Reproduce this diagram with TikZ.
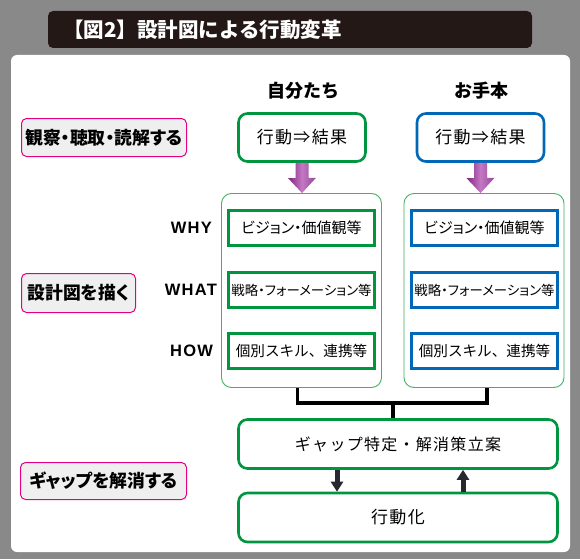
\documentclass[tikz,border=0pt]{standalone}
\usepackage{fontspec}
\setmainfont{Noto Sans CJK JP}
\newfontfamily\jpp{Noto Sans CJK JP}[RawFeature=+palt]
\newfontfamily\jpw{Noto Sans CJK JP}[LetterSpace=8]
\newfontfamily\latinb{Liberation Sans}[LetterSpace=8]
\usetikzlibrary{positioning, calc, arrows.meta}

\definecolor{bggray}{RGB}{137,137,137}
\definecolor{barcol}{RGB}{35,24,21}
\definecolor{gline}{RGB}{0,150,64}
\definecolor{bline}{RGB}{0,104,183}
\definecolor{fline}{RGB}{70,175,100}
\definecolor{pinkline}{RGB}{228,0,127}
\definecolor{lblfill}{RGB}{239,239,239}
\definecolor{arrdark}{RGB}{40,40,48}
\definecolor{purdark}{RGB}{128,36,128}
\definecolor{purlight}{RGB}{196,120,196}

\tikzset{
  stagelbl/.style={draw=pinkline, fill=lblfill, line width=1pt, rounded corners=5pt, inner sep=0pt,
    font=\jpp\bfseries\fontsize{17.8}{18}\selectfont},
  colhead/.style={font=\bfseries\fontsize{18}{18}\selectfont, inner sep=0pt},
  topbox/.style={line width=2.6pt, rounded corners=9pt, fill=white, minimum width=127pt,
    minimum height=48pt, inner sep=0pt, font=\jpw\fontsize{17}{17}\selectfont},
  framebox/.style={draw=fline, line width=0.9pt, rounded corners=10pt, minimum width=160pt, minimum height=194pt},
  innerbox/.style={line width=2.6pt, minimum width=146pt, minimum height=35pt, inner sep=0pt},
  wlbl/.style={font=\latinb\bfseries\fontsize{16.5}{17}\selectfont, inner sep=0pt},
  widebox/.style={draw=gline, line width=2.6pt, rounded corners=9pt, minimum width=319pt,
    minimum height=49pt, inner sep=0pt, font=\jpw\fontsize{16}{16}\selectfont},
  bracket/.style={line width=3.5pt},
  darrow/.style={draw=arrdark, line width=5pt, -{Triangle[width=12pt,length=10pt]}},
  purparrow/.style={left color=purdark, right color=purdark!85, middle color=purlight}
}

\begin{document}
\begin{tikzpicture}[x=1pt, y=-1pt]
  % background, title bar and panel
  \fill[bggray] (0,0) rectangle (580,559);
  \useasboundingbox (0,0) rectangle (580,559);
  \fill[barcol, rounded corners=5pt] (48,11) rectangle (532,48);
  \fill[white, rounded corners=6pt] (11,55) rectangle (570,552);
  \node[anchor=west, text=white, inner sep=0pt, font=\bfseries\fontsize{20.5}{21}\selectfont] (title) at (63,29.5) {【図2】設計図による行動変革};

  % column heads
  \node[colhead] (own) at (303,91) {自分たち};
  \node[colhead] (model) at (481,91) {お手本};

  % stage labels
  \node[stagelbl, minimum width=165pt, minimum height=38pt] (observe) at (104,137.5) {観察・聴取・読解する};
  \node[stagelbl, minimum width=114pt, minimum height=39pt] (design) at (78.5,293) {設計図を描く};
  \node[stagelbl, minimum width=166pt, minimum height=37pt] (solve) at (103.5,481) {ギャップを解消する};

  % behaviour => result
  \node[topbox, draw=gline] (ltop) at (302,137.5) {行動⇒結果};
  \node[topbox, draw=bline] (rtop) at (480.5,137.5) {行動⇒結果};

  % design frames
  \node[framebox] (lframe) at (301.5,290.5) {};
  \node[framebox] (rframe) at (484,290.5) {};

  % why / what / how boxes
  \foreach \k/\fnt/\txt/\y in {why/{\jpp\fontsize{15}{15}}/{ビジョン・価値観等}/228,
      what/{\jpp\fontsize{13.4}{14}}/{戦略・フォーメーション等}/290,
      how/{\fontsize{14.6}{15}}/{個別スキル、連携等}/351}{
    \node[innerbox, draw=gline, font=\fnt\selectfont] (l\k) at (301.5,\y) {\txt};
    \node[innerbox, draw=bline, font=\fnt\selectfont] (r\k) at (484.5,\y) {\txt};
  }
  \node[wlbl, left=15pt of lwhy] (why) {WHY};
  \node[wlbl, left=10pt of lwhat] (what) {WHAT};
  \node[wlbl, left=14pt of lhow] (how) {HOW};

  % purple arrows
  \foreach \t/\f in {ltop/lframe, rtop/rframe}{
    \shade[purparrow] ($(\t.south)+(-6.5,0)$) -- ++(13,0) -- ++(0,15) -- ++(7.5,0)
      -- (\t.south |- \f.north) -- ++(-14,-15) -- ++(7.5,0) -- cycle;
  }

  % gap boxes
  \node[widebox] (gap) at (398,444) {ギャップ特定・解消策立案};
  \node[widebox, font=\jpw\fontsize{17}{17}\selectfont] (act) at (398,517.5) {行動化};

  % bracket
  \draw[bracket] ([xshift=-4pt]lframe.south) -- ++(0,15) -| ([xshift=3pt]rframe.south);
  \coordinate (brmid) at ($(lframe.south)!0.5!(rframe.south)+(0,15)$);
  \draw[bracket] (brmid) -- (brmid |- gap.north);

  % loop arrows
  \draw[darrow] ([xshift=-61pt]gap.south) -- ([xshift=-61pt]act.north);
  \draw[darrow] ([xshift=65pt]act.north) -- ([xshift=65pt]gap.south);
\end{tikzpicture}
\end{document}
